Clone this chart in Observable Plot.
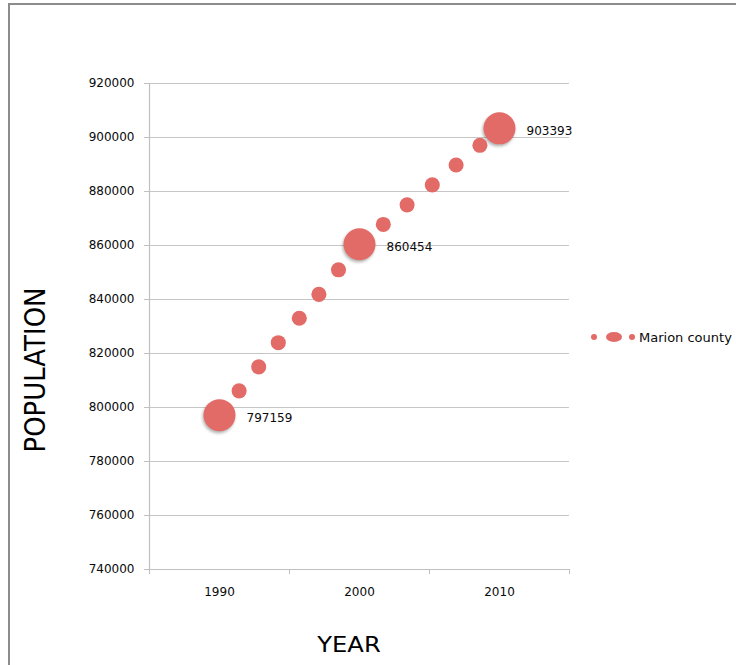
<!DOCTYPE html>
<html>
<head>
<meta charset="utf-8">
<script src="https://cdn.jsdelivr.net/npm/d3@7"></script>
<script src="https://cdn.jsdelivr.net/npm/@observablehq/plot@0.6"></script>
<style>
  html, body { margin: 0; padding: 0; background: #fff; }
  body { width: 736px; height: 665px; overflow: hidden; position: relative; font-family: "DejaVu Sans", sans-serif; }
  #frame { position: absolute; left: 8px; top: 3px; width: 800px; height: 720px; border: 2px solid #8c8c8c; box-sizing: border-box; }
  #chart { position: absolute; left: 0; top: 0; }
  #titles { position: absolute; left: 0; top: 0; pointer-events: none; }
  #legend { position: absolute; left: 584px; top: 326px; }
</style>
</head>
<body>
<div id="frame"></div>
<div id="chart"></div>
<svg id="titles" width="736" height="665"></svg>
<svg id="legend" width="152" height="22"></svg>
<script>
// Marion county population, census years plus intercensal estimates
const years = [1990, 1991.4, 1992.8, 1994.2, 1995.7, 1997.1, 1998.5, 2000, 2001.7, 2003.4, 2005.2, 2006.9, 2008.6, 2010];
const population = [797159, 806170, 815050, 824000, 833050, 841900, 851000, 860454, 867800, 875050, 882440, 889800, 897100, 903393];
const bubbleSize = [9, 2, 2, 2, 2, 2, 2, 9, 2, 2, 2, 2, 2, 9];
const censusYears = [1990, 2000, 2010];

// axis ticks
const yearLabels = [1990, 2000, 2010];
const yearDividers = [1985, 1995, 2005, 2015];
const populationTicks = [740000, 760000, 780000, 800000, 820000, 840000, 860000, 880000, 900000, 920000];

const seriesName = "Marion county";
const xTitle = "YEAR";
const yTitle = "POPULATION";

const bubbleColor = "#e36b67";
const axisColor = "#c0c0c0";
const textColor = "#0a0a0a";

const rows = years.map((year, i) => ({year, population: population[i], size: bubbleSize[i]}));
const census = rows.filter(d => censusYears.includes(d.year));

const chart = Plot.plot({
  width: 736,
  height: 665,
  marginTop: 83,
  marginBottom: 96,
  marginLeft: 149,
  marginRight: 167,
  style: {fontFamily: "DejaVu Sans, sans-serif", fontSize: "12px", color: textColor, background: "transparent"},
  x: {domain: [yearDividers[0], yearDividers[yearDividers.length - 1]]},
  y: {domain: [populationTicks[0], populationTicks[populationTicks.length - 1]]},
  r: {domain: [0, d3.max(bubbleSize)], range: [0, 16]},
  marks: [
    Plot.gridY(populationTicks, {stroke: "#c6c6c6", strokeOpacity: 1, strokeWidth: 1.2}),
    Plot.ruleX([yearDividers[0]], {stroke: axisColor, strokeWidth: 1.2}),
    Plot.ruleY([populationTicks[0]], {stroke: axisColor, strokeWidth: 1.2}),
    Plot.axisY({ticks: populationTicks, tickSize: 5, tickPadding: 10, tickFormat: d => String(d), stroke: axisColor, fill: textColor, label: null}),
    Plot.axisX({ticks: yearDividers, tickSize: 5, tickFormat: () => "", stroke: axisColor, label: null}),
    Plot.axisX({ticks: yearLabels, tickSize: 0, tickPadding: 18, tickFormat: d => String(d), fill: textColor, label: null}),
    Plot.dot(rows, {x: "year", y: "population", r: "size", fill: bubbleColor}),
    Plot.text(census, {x: "year", y: "population", text: d => String(d.population), textAnchor: "start", dx: 27, dy: 2.5, fill: textColor, fontSize: 12})
  ]
});
document.getElementById("chart").appendChild(chart);

// soft shadow under the census bubbles
d3.select(chart).selectAll("circle")
  .filter(function() { return +this.getAttribute("r") > 12; })
  .style("filter", "drop-shadow(-1px 2px 1.5px rgba(0,0,0,0.3))");

// axis titles
const titles = d3.select("#titles");
titles.append("text")
  .attr("transform", "translate(45,370) rotate(-90) scale(1,1.12)")
  .attr("text-anchor", "middle")
  .attr("font-size", 26)
  .attr("fill", "#000")
  .text(yTitle);
titles.append("text")
  .attr("transform", "translate(349,652) scale(1.1,1)")
  .attr("text-anchor", "middle")
  .attr("font-size", 22)
  .attr("fill", "#000")
  .text(xTitle);

// legend
const legend = d3.select("#legend");
legend.append("circle").attr("cx", 10).attr("cy", 11).attr("r", 3).attr("fill", bubbleColor);
legend.append("ellipse").attr("cx", 30).attr("cy", 11).attr("rx", 8).attr("ry", 5).attr("fill", bubbleColor);
legend.append("circle").attr("cx", 48).attr("cy", 11).attr("r", 3).attr("fill", bubbleColor);
legend.append("text").attr("x", 55).attr("y", 16).attr("font-size", 13).attr("fill", textColor).text(seriesName);
</script>
</body>
</html>
